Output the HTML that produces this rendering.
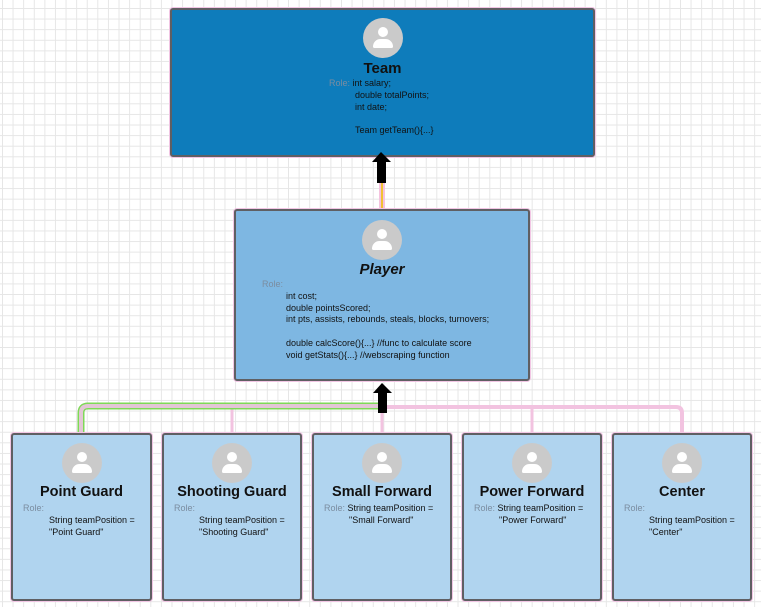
<!DOCTYPE html>
<html><head><meta charset="utf-8"><style>
*{margin:0;padding:0;box-sizing:border-box}
body{width:761px;height:607px;overflow:hidden;position:relative;background-color:#fff;
background-image:linear-gradient(to right,#e6e6e6 1px,transparent 1px),linear-gradient(to bottom,#e6e6e6 1px,transparent 1px);
background-size:10.6px 10.6px;background-position:2px 8px;font-family:"Liberation Sans",Arial,sans-serif}
.box{position:absolute;border:2px solid #5f5f63;border-radius:3px;box-shadow:0 0 0 1px #f2c6e4}
.av{position:absolute;width:40px;height:40px;border-radius:50%;background:#cacaca;left:50%;margin-left:-20px}
.av:before{content:"";position:absolute;left:15px;top:9px;width:10px;height:10px;border-radius:50%;background:#fff}
.av:after{content:"";position:absolute;left:10px;top:21px;width:20px;height:9px;border-radius:10px 10px 2px 2px;background:#fff}
.t{position:absolute;left:0;right:0;text-align:center;font-weight:bold;color:#111}
.s{position:absolute;font-size:9px;line-height:11.7px;color:#111;white-space:nowrap}
.r{color:#7b8da0}
</style></head><body>
<svg width="761" height="607" style="position:absolute;left:0;top:0">
<rect x="379" y="183" width="6" height="27" fill="#f5c2df"/>
<rect x="381" y="183" width="2" height="27" fill="#f1c232"/>
<path d="M381 407 H676 Q682 407 682 413 V433" fill="none" stroke="#f2c3e0" stroke-width="4"/>
<path d="M532 407 V433" fill="none" stroke="#f2c3e0" stroke-width="3"/>
<path d="M232 409 V433" fill="none" stroke="#f2c3e0" stroke-width="3"/>
<path d="M382 409 V433" fill="none" stroke="#f2c3e0" stroke-width="3"/>
<path d="M81 434 V413 Q81 406 88 406 H381" fill="none" stroke="#7ed957" stroke-width="7"/>
<path d="M81 434 V413 Q81 406 88 406 H381" fill="none" stroke="#e3c6d6" stroke-width="4"/>
</svg>

<div class="box" style="left:170px;top:8px;width:425px;height:149px;background:#0e7cbb">
<div class="av" style="top:8px"></div>
<div class="t" style="top:50px;font-size:15px">Team</div>
<div class="s" style="left:157px;top:68px"><span class="r">Role: </span>int salary;</div>
<div class="s" style="left:183px;top:80px">double totalPoints;<br>int date;<br><br>Team getTeam(){...}</div>
</div>

<div class="box" style="left:234px;top:209px;width:296px;height:172px;background:#7eb7e2">
<div class="av" style="top:9px"></div>
<div class="t" style="top:50px;font-size:15px;font-style:italic">Player</div>
<div class="s r" style="left:26px;top:68px">Role:</div>
<div class="s" style="left:50px;top:80px">int cost;<br>double pointsScored;<br>int pts, assists, rebounds, steals, blocks, turnovers;<br><br>double calcScore(){...} //func to calculate score<br>void getStats(){...} //webscraping function</div>
</div>

<div class="box" style="left:11px;top:433px;width:141px;height:168px;background:#b0d4ef">
<div class="av" style="top:8px"></div><div class="t" style="top:49px;font-size:14.5px">Point Guard</div>
<div class="s r" style="left:10px;top:68px">Role:</div>
<div class="s" style="left:36px;top:80px">String teamPosition =<br>"Point Guard"</div></div>

<div class="box" style="left:162px;top:433px;width:140px;height:168px;background:#b0d4ef">
<div class="av" style="top:8px"></div><div class="t" style="top:49px;font-size:14.5px">Shooting Guard</div>
<div class="s r" style="left:10px;top:68px">Role:</div>
<div class="s" style="left:35px;top:80px">String teamPosition =<br>"Shooting Guard"</div></div>

<div class="box" style="left:312px;top:433px;width:140px;height:168px;background:#b0d4ef">
<div class="av" style="top:8px"></div><div class="t" style="top:49px;font-size:14.5px">Small Forward</div>
<div class="s" style="left:10px;top:68px"><span class="r">Role: </span>String teamPosition =</div>
<div class="s" style="left:35px;top:80px">"Small Forward"</div></div>

<div class="box" style="left:462px;top:433px;width:140px;height:168px;background:#b0d4ef">
<div class="av" style="top:8px"></div><div class="t" style="top:49px;font-size:14.5px">Power Forward</div>
<div class="s" style="left:10px;top:68px"><span class="r">Role: </span>String teamPosition =</div>
<div class="s" style="left:35px;top:80px">"Power Forward"</div></div>

<div class="box" style="left:612px;top:433px;width:140px;height:168px;background:#b0d4ef">
<div class="av" style="top:8px"></div><div class="t" style="top:49px;font-size:14.5px">Center</div>
<div class="s r" style="left:10px;top:68px">Role:</div>
<div class="s" style="left:35px;top:80px">String teamPosition =<br>"Center"</div></div>

<svg width="761" height="607" style="position:absolute;left:0;top:0;z-index:5">
<path d="M381 152 L391 162 L386 162 L386 183 L377 183 L377 162 L372 162 Z" fill="#000"/>
<path d="M382 383 L392 393 L387 393 L387 413 L378 413 L378 393 L373 393 Z" fill="#000"/>
</svg>
</body></html>
